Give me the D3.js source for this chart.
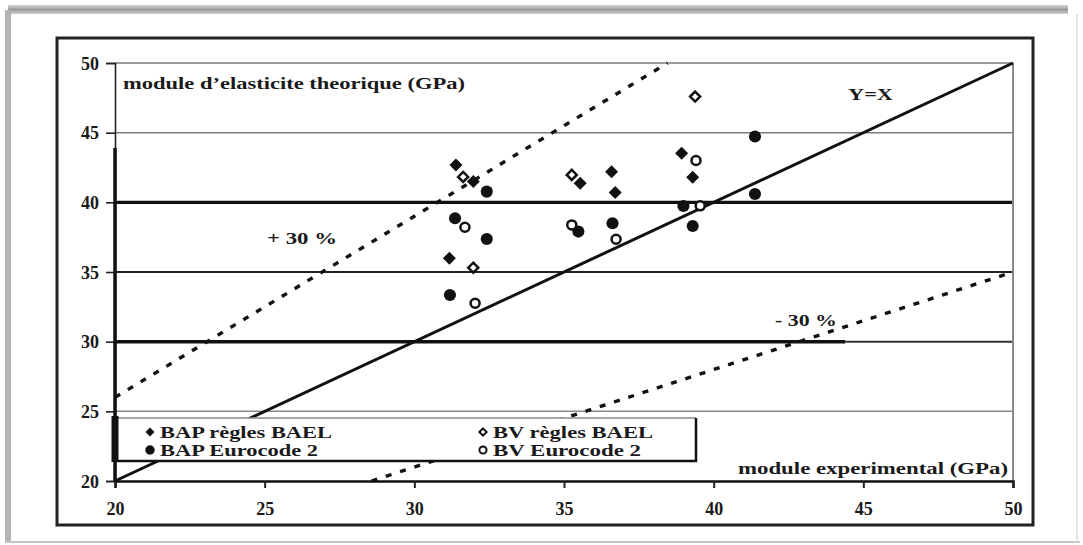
<!DOCTYPE html>
<html>
<head>
<meta charset="utf-8">
<script src="https://cdn.jsdelivr.net/npm/d3@7"></script>
<style>
  html, body { margin: 0; padding: 0; background: #fff; }
  svg { display: block; }
  text { font-family: "Liberation Serif", "Times New Roman", serif; font-weight: bold; fill: #1a1a1a; }
</style>
</head>
<body>
<svg id="chart" width="1083" height="545"></svg>
<script>
// Measured vs. theoretical elastic modulus (GPa)
const xTicks = [20, 25, 30, 35, 40, 45, 50];
const yTicks = [20, 25, 30, 35, 40, 45, 50];

// BAP, BAEL rules
const bapBael = [
  [31.39, 42.68], [31.17, 35.99], [31.97, 41.50], [35.54, 41.37],
  [36.59, 42.20], [36.71, 40.70], [38.93, 43.52], [39.30, 41.80]
];
// BV, BAEL rules
const bvBael = [
  [31.63, 41.82], [31.97, 35.31], [35.26, 41.97], [39.38, 47.59]
];
// BAP, Eurocode 2
const bapEc2 = [
  [32.42, 40.77], [31.36, 38.86], [32.42, 37.37], [31.19, 33.35],
  [35.48, 37.90], [36.62, 38.50], [38.99, 39.74], [39.30, 38.30],
  [41.38, 44.72], [41.38, 40.60]
];
// BV, Eurocode 2
const bvEc2 = [
  [31.69, 38.21], [32.03, 32.76], [35.26, 38.38], [36.74, 37.35],
  [39.41, 43.00], [39.55, 39.75]
];

const legendLabels = ["BAP règles BAEL", "BV règles BAEL", "BAP Eurocode 2", "BV Eurocode 2"];

// reference lines: y = k * x
const refSlopes = [1.0, 1.3, 0.7];

const svg = d3.select("#chart");

// ---- page frame ----
const shade = svg.append("defs").append("linearGradient")
  .attr("id", "topShade").attr("x1", 0).attr("x2", 0).attr("y1", 0).attr("y2", 1);
shade.append("stop").attr("offset", "0%").attr("stop-color", "#d8d8d8");
shade.append("stop").attr("offset", "50%").attr("stop-color", "#9a9a9a");
shade.append("stop").attr("offset", "100%").attr("stop-color", "#d0d0d0");
svg.append("rect").attr("x", 8).attr("y", 5).attr("width", 1060).attr("height", 9).attr("fill", "url(#topShade)");
svg.append("rect").attr("x", 5).attr("y", 10).attr("width", 6).attr("height", 533).attr("fill", "#b4b4b4");
svg.append("line").attr("x1", 5).attr("x2", 1080).attr("y1", 542).attr("y2", 542)
  .attr("stroke", "#c4c4c4").attr("stroke-width", 2);
svg.append("line").attr("x1", 1077).attr("x2", 1077).attr("y1", 14).attr("y2", 542)
  .attr("stroke", "#e2e2e2").attr("stroke-width", 2);
svg.append("rect").attr("x", 57).attr("y", 38).attr("width", 976).attr("height", 487)
  .attr("fill", "none").attr("stroke", "#222").attr("stroke-width", 3);

// ---- scales ----
const x = d3.scaleLinear().domain([20, 50]).range([115, 1013]);
const y = d3.scaleLinear().domain([20, 50]).range([481, 63]);

// ---- horizontal grid ----
const gridStyle = {
  25: { c: "#8a8a8a", w: 1.5 },
  35: { c: "#222", w: 2 },
  40: { c: "#111", w: 3.2 },
  45: { c: "#7a7a7a", w: 1.5 },
  50: { c: "#7a7a7a", w: 1.5 }
};
svg.append("g").selectAll("line")
  .data(yTicks.filter(v => gridStyle[v]))
  .join("line")
  .attr("x1", x(20)).attr("x2", x(50))
  .attr("y1", d => y(d)).attr("y2", d => y(d))
  .attr("stroke", d => gridStyle[d].c)
  .attr("stroke-width", d => gridStyle[d].w);
// 30 line: heavy over most of the width, lighter at the right end
svg.append("line").attr("x1", x(20)).attr("x2", x(44.4)).attr("y1", y(30)).attr("y2", y(30))
  .attr("stroke", "#111").attr("stroke-width", 3.5);
svg.append("line").attr("x1", x(44.4)).attr("x2", x(50)).attr("y1", y(30)).attr("y2", y(30))
  .attr("stroke", "#333").attr("stroke-width", 2);
// right edge of the plot area
svg.append("line").attr("x1", x(50)).attr("x2", x(50)).attr("y1", y(50)).attr("y2", y(20))
  .attr("stroke", "#8a8a8a").attr("stroke-width", 2);

// ---- axes ----
const yAxis = svg.append("g").attr("transform", `translate(${x(20)},0)`)
  .call(d3.axisLeft(y).tickValues(yTicks).tickSize(9).tickPadding(7).tickFormat(d3.format("d")));
yAxis.select(".domain").attr("stroke", "#222").attr("stroke-width", 1.6);
yAxis.selectAll(".tick line").attr("stroke", "#222").attr("stroke-width", 1.6);
yAxis.selectAll(".tick text").attr("font-size", 18).attr("dy", "0.34em");
// heavier stretch of the vertical axis
svg.append("line").attr("x1", x(20)).attr("x2", x(20)).attr("y1", y(43.9)).attr("y2", y(20))
  .attr("stroke", "#111").attr("stroke-width", 3.5);

const xAxis = svg.append("g").attr("transform", `translate(0,${y(20)})`)
  .call(d3.axisBottom(x).tickValues(xTicks).tickSize(7).tickPadding(14).tickFormat(d3.format("d")));
xAxis.select(".domain").attr("stroke", "#111").attr("stroke-width", 2.5);
xAxis.selectAll(".tick line").attr("stroke", "#222").attr("stroke-width", 2);
xAxis.selectAll(".tick text").attr("font-size", 18);
svg.selectAll(".tick text").style("font-family", "'Liberation Serif', serif").style("font-weight", "bold").attr("fill", "#1a1a1a");

// ---- reference lines ----
function refEnd(k) {
  // clip y = k x to the [20,50] square
  const x0 = Math.max(20, 20 / k), x1 = Math.min(50, 50 / k);
  return [[x0, k * x0], [x1, k * x1]];
}
const lineGen = d3.line().x(d => x(d[0])).y(d => y(d[1]));
svg.append("path").datum(refEnd(refSlopes[0])).attr("d", lineGen)
  .attr("fill", "none").attr("stroke", "#111").attr("stroke-width", 3);
[refSlopes[1], refSlopes[2]].forEach(k => {
  svg.append("path").datum(refEnd(k)).attr("d", lineGen)
    .attr("fill", "none").attr("stroke", "#111").attr("stroke-width", 3.4)
    .attr("stroke-dasharray", "6,9");
});

// ---- markers ----
const diamond = (h) => `M0,${-h}L${h},0L0,${h}L${-h},0Z`;
function drawSeries(data, kind) {
  const g = svg.append("g");
  const sel = g.selectAll("path").data(data).join("path")
    .attr("transform", d => `translate(${x(d[0])},${y(d[1])})`);
  if (kind === "bapBael") sel.attr("d", diamond(6.5)).attr("fill", "#111");
  if (kind === "bvBael") sel.attr("d", diamond(5)).attr("fill", "#fff").attr("stroke", "#111").attr("stroke-width", 2.5);
  if (kind === "bapEc2") sel.attr("d", d3.symbol(d3.symbolCircle, 115)()).attr("fill", "#111");
  if (kind === "bvEc2") sel.attr("d", d3.symbol(d3.symbolCircle, 64)()).attr("fill", "#fff").attr("stroke", "#111").attr("stroke-width", 2.5);
}
drawSeries(bapEc2, "bapEc2");
drawSeries(bapBael, "bapBael");
drawSeries(bvEc2, "bvEc2");
drawSeries(bvBael, "bvBael");

// ---- legend ----
const lg = svg.append("g");
lg.append("rect").attr("x", x(20)).attr("y", 418).attr("width", 581).attr("height", 43).attr("fill", "#fff");
lg.append("line").attr("x1", x(20)).attr("x2", 696).attr("y1", 418).attr("y2", 418).attr("stroke", "#8a8a8a").attr("stroke-width", 1.5);
lg.append("line").attr("x1", x(20)).attr("x2", 697).attr("y1", 461).attr("y2", 461).attr("stroke", "#111").attr("stroke-width", 2.5);
lg.append("line").attr("x1", 696).attr("x2", 696).attr("y1", 418).attr("y2", 462).attr("stroke", "#111").attr("stroke-width", 2.5);
lg.append("line").attr("x1", x(20)).attr("x2", x(20)).attr("y1", 416).attr("y2", 462).attr("stroke", "#111").attr("stroke-width", 7);

const legendItems = [
  { label: legendLabels[0], kind: "bapBael", mx: 150, my: 432 },
  { label: legendLabels[1], kind: "bvBael", mx: 483, my: 432 },
  { label: legendLabels[2], kind: "bapEc2", mx: 150, my: 450 },
  { label: legendLabels[3], kind: "bvEc2", mx: 483, my: 450 }
];
const widths = { bapBael: 172, bvBael: 160, bapEc2: 158, bvEc2: 148 };
legendItems.forEach(it => {
  const m = lg.append("path").attr("transform", `translate(${it.mx},${it.my})`);
  if (it.kind === "bapBael") m.attr("d", diamond(4.5)).attr("fill", "#111");
  if (it.kind === "bvBael") m.attr("d", diamond(3.6)).attr("fill", "#fff").attr("stroke", "#111").attr("stroke-width", 2);
  if (it.kind === "bapEc2") m.attr("d", d3.symbol(d3.symbolCircle, 70)()).attr("fill", "#111");
  if (it.kind === "bvEc2") m.attr("d", d3.symbol(d3.symbolCircle, 40)()).attr("fill", "#fff").attr("stroke", "#111").attr("stroke-width", 2);
  lg.append("text").attr("x", it.mx + 10).attr("y", it.my + 6).attr("font-size", 17)
    .attr("textLength", widths[it.kind]).attr("lengthAdjust", "spacingAndGlyphs")
    .text(it.label);
});

// ---- annotations ----
svg.append("text").attr("x", 123).attr("y", 89).attr("font-size", 16)
  .attr("textLength", 342).attr("lengthAdjust", "spacingAndGlyphs")
  .text("module d’elasticite theorique (GPa)");
svg.append("text").attr("x", 738).attr("y", 474).attr("font-size", 16)
  .attr("textLength", 270).attr("lengthAdjust", "spacingAndGlyphs")
  .text("module experimental (GPa)");
svg.append("text").attr("x", 848).attr("y", 100).attr("font-size", 16)
  .attr("textLength", 45).attr("lengthAdjust", "spacingAndGlyphs").text("Y=X");
svg.append("text").attr("x", 267).attr("y", 244).attr("font-size", 16)
  .attr("textLength", 70).attr("lengthAdjust", "spacingAndGlyphs").text("+ 30 %");
svg.append("text").attr("x", 775).attr("y", 326).attr("font-size", 16)
  .attr("textLength", 62).attr("lengthAdjust", "spacingAndGlyphs").text("- 30 %");
</script>
</body>
</html>
